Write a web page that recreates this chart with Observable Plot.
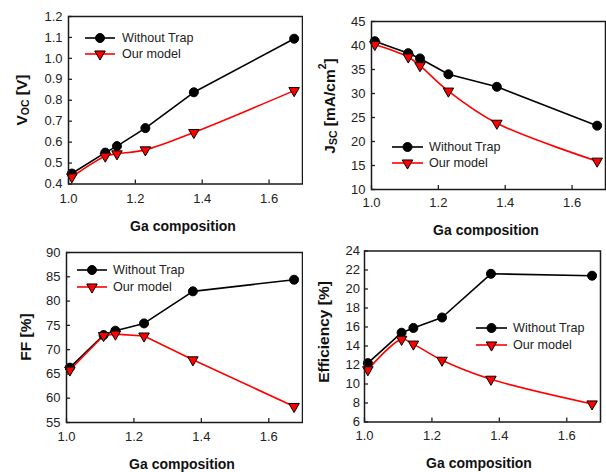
<!DOCTYPE html>
<html><head><meta charset="utf-8">
<script src="https://cdn.jsdelivr.net/npm/d3@7"></script>
<script src="https://cdn.jsdelivr.net/npm/@observablehq/plot@0.6"></script>
<style>
body{margin:0;background:#fff}
#grid{display:grid;grid-template-columns:303px 303px;grid-template-rows:236px 236px;width:606px;height:472px}
#grid svg{display:block}
</style>
</head><body><div id="grid"></div>
<script>
const gaComposition = [1.01, 1.11, 1.145, 1.23, 1.375, 1.675];
const xTicks = [1.0, 1.2, 1.4, 1.6];
const seriesNames = ["Without Trap", "Our model"];

const vocWithoutTrap = [0.450, 0.550, 0.581, 0.667, 0.838, 1.094];
const vocOurModel    = [0.434, 0.533, 0.544, 0.563, 0.646, 0.846];
const vocTicks = [0.4, 0.5, 0.6, 0.7, 0.8, 0.9, 1.0, 1.1, 1.2];

const jscWithoutTrap = [40.9, 38.4, 37.3, 34.0, 31.4, 23.3];
const jscOurModel    = [40.2, 37.6, 35.8, 30.5, 23.8, 15.9];
const jscTicks = [10, 15, 20, 25, 30, 35, 40, 45];

const ffWithoutTrap = [66.3, 73.0, 73.9, 75.4, 82.0, 84.4];
const ffOurModel    = [65.8, 72.9, 73.2, 72.8, 67.9, 58.3];
const ffTicks = [55, 60, 65, 70, 75, 80, 85, 90];

const effWithoutTrap = [12.2, 15.4, 15.9, 17.0, 21.6, 21.4];
const effOurModel    = [11.5, 14.7, 14.2, 12.5, 10.5, 7.9];
const effTicks = [6, 8, 10, 12, 14, 16, 18, 20, 22, 24];

const FONT = "Liberation Sans, Arial, Helvetica, sans-serif";

const triangleDown = {
  draw(context, size) {
    const y = Math.sqrt(size / (3 * Math.sqrt(3)));
    const s = Math.sqrt(3) * y;
    context.moveTo(0, 2 * y);
    context.lineTo(s, -y);
    context.lineTo(-s, -y);
    context.closePath();
  }
};

const R_CIRCLE = 4.5, R_TRI = 3.9;

function panel(cfg) {
  const rows = gaComposition.map((x, i) => ({x, a: cfg.a[i], b: cfg.b[i]}));
  const svg = Plot.plot({
    width: 303, height: 236,
    marginLeft: cfg.m[0], marginRight: cfg.m[1], marginTop: cfg.m[2], marginBottom: cfg.m[3],
    x: {domain: [1.0, 1.7]},
    y: {domain: [cfg.ticks[0], cfg.ticks[cfg.ticks.length - 1]]},
    style: {fontFamily: FONT, fontSize: "13px", color: "#222", background: "white", overflow: "visible"},
    marks: [
      Plot.axisY({ticks: cfg.ticks, tickFormat: cfg.fmt, tickSize: -4, tickPadding: cfg.yPad, label: null, strokeWidth: 1.3}),
      Plot.axisX({ticks: xTicks, tickFormat: d3.format(".1f"), tickSize: -4, tickPadding: cfg.xPad, label: null, strokeWidth: 1.3}),
      Plot.line(rows, {x: "x", y: "a", stroke: "#000", strokeWidth: 1.6}),
      Plot.line(rows, {x: "x", y: "b", stroke: "#f00", strokeWidth: 1.6, curve: cfg.curve}),
      Plot.dot(rows, {x: "x", y: "a", r: R_CIRCLE, fill: "#000", stroke: "#000", strokeWidth: 1}),
      Plot.dot(rows, {x: "x", y: "b", r: R_TRI, symbol: triangleDown, fill: "#f00", stroke: "#000", strokeWidth: 1}),
      Plot.frame({stroke: "#1a1a1a", strokeWidth: 1.5})
    ]
  });
  const s = d3.select(svg);
  // x title
  s.append("text").attr("x", cfg.xt[0]).attr("y", cfg.xt[1])
    .attr("text-anchor", "middle").attr("dominant-baseline", "central")
    .attr("font-family", FONT).attr("font-weight", "bold").attr("font-size", 14).attr("fill", "#111")
    .text("Ga composition");
  // y title
  const yt = s.append("text")
    .attr("transform", `translate(${cfg.yt[0]},${cfg.yt[1]}) rotate(-90)`)
    .attr("text-anchor", "middle").attr("dominant-baseline", "central")
    .attr("font-family", FONT).attr("font-weight", "bold").attr("font-size", 15.5).attr("fill", "#111");
  cfg.title.forEach(([t, kind]) => {
    const ts = yt.append("tspan").text(t);
    if (kind === "sub") ts.attr("font-size", 10.5).attr("dy", 4);
    else if (kind === "sup") ts.attr("font-size", 10.5).attr("dy", -7);
    else if (kind === "back") ts.attr("dy", cfg.backDy || 0);
    else if (kind === "back2") ts.attr("dy", 7);
  });
  // legend
  const L = cfg.legend;
  const sym = d3.symbol();
  seriesNames.forEach((name, i) => {
    const y = L.y[i];
    const g = s.append("g");
    g.append("line").attr("x1", L.x1).attr("x2", L.x2).attr("y1", y).attr("y2", y)
      .attr("stroke", i === 0 ? "#000" : "#f00").attr("stroke-width", 1.6);
    const cx = (L.x1 + L.x2) / 2;
    if (i === 0) {
      g.append("path").attr("d", sym.type(d3.symbolCircle).size(Math.PI * R_CIRCLE * R_CIRCLE)())
        .attr("transform", `translate(${cx},${y})`).attr("fill", "#000").attr("stroke", "#000");
    } else {
      g.append("path").attr("d", sym.type(triangleDown).size(Math.PI * R_TRI * R_TRI)())
        .attr("transform", `translate(${cx},${y})`).attr("fill", "#f00").attr("stroke", "#000");
    }
    g.append("text").attr("x", L.tx).attr("y", y).attr("dominant-baseline", "central")
      .attr("text-anchor", "start")
      .attr("font-family", FONT).attr("font-size", 12.6).attr("fill", "#222").text(name);
  });
  document.getElementById("grid").appendChild(svg);
}

panel({
  a: vocWithoutTrap, b: vocOurModel, ticks: vocTicks, fmt: d3.format(".1f"),
  m: [68, 1, 16, 52.5], xPad: 14, yPad: 10, curve: "catmull-rom",
  xt: [183, 226], yt: [21, 100],
  title: [["V"], ["OC", "sub"], [" [V]", "back"]], backDy: -4,
  legend: {x1: 85, x2: 115, tx: 122, y: [38, 54]}
});
panel({
  a: jscWithoutTrap, b: jscOurModel, ticks: jscTicks, fmt: d3.format("d"),
  m: [68, 1, 21, 47], xPad: 12.5, yPad: 10, curve: "catmull-rom",
  xt: [183, 230], yt: [26, 106],
  title: [["J"], ["SC", "sub"], [" [mA/cm", "back"], ["2", "sup"], ["]", "back2"]], backDy: -4,
  legend: {x1: 89, x2: 120, tx: 126, y: [147, 163]}
});
panel({
  a: ffWithoutTrap, b: ffOurModel, ticks: ffTicks, fmt: d3.format("d"),
  m: [66, 1, 16, 50], xPad: 13.5, yPad: 10, curve: "linear",
  xt: [182, 228], yt: [25, 101],
  title: [["FF [%]"]],
  legend: {x1: 77, x2: 107, tx: 113, y: [34, 51]}
});
panel({
  a: effWithoutTrap, b: effOurModel, ticks: effTicks, fmt: d3.format("d"),
  m: [61, 6, 14.5, 50.5], xPad: 12.5, yPad: 8.5, curve: "catmull-rom",
  xt: [176, 227], yt: [20, 96],
  title: [["Efficiency [%]"]],
  legend: {x1: 173, x2: 204, tx: 210, y: [92, 109]}
});
</script>
</body></html>
